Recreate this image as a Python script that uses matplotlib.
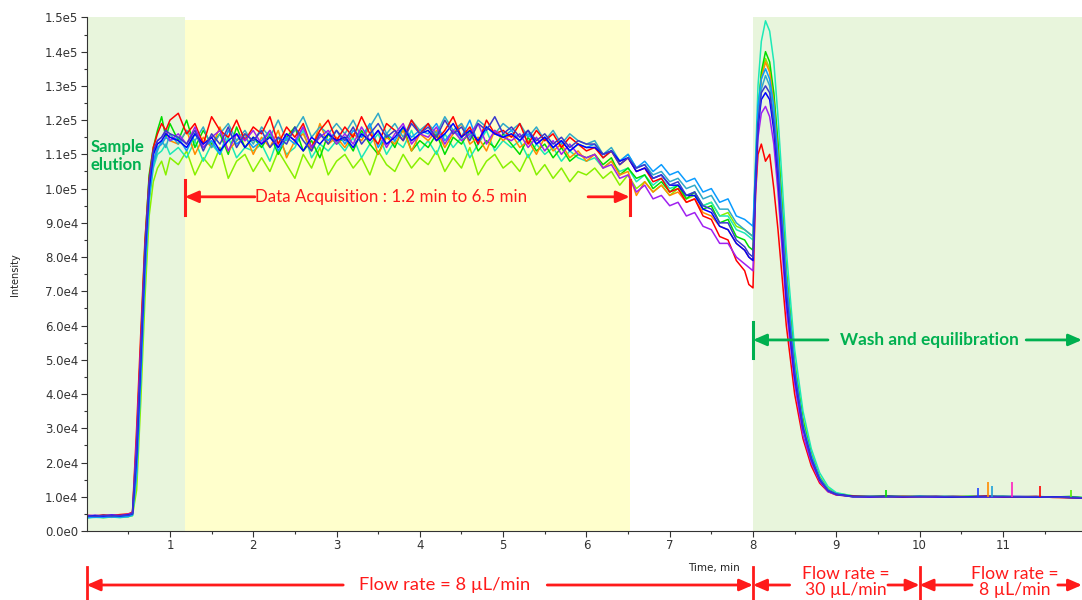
import numpy as np
import matplotlib
matplotlib.use("Agg")
import matplotlib.pyplot as plt
import matplotlib.transforms as mtransforms

# Time grid (min), shared by all traces
t = [0.0, 0.1, 0.2, 0.3, 0.4, 0.5,
     0.55, 0.6, 0.65, 0.7, 0.75, 0.8, 0.85, 0.9, 0.95, 1.0,
     1.1, 1.2, 1.3, 1.4, 1.5, 1.6, 1.7, 1.8, 1.9, 2.0,
     2.1, 2.2, 2.3, 2.4, 2.5, 2.6, 2.7, 2.8, 2.9, 3.0,
     3.1, 3.2, 3.3, 3.4, 3.5, 3.6, 3.7, 3.8, 3.9, 4.0,
     4.1, 4.2, 4.3, 4.4, 4.5, 4.6, 4.7, 4.8, 4.9, 5.0,
     5.1, 5.2, 5.3, 5.4, 5.5, 5.6, 5.7, 5.8, 5.9, 6.0,
     6.1, 6.2, 6.3, 6.4, 6.5, 6.6, 6.7, 6.8, 6.9, 7.0,
     7.1, 7.2, 7.3, 7.4, 7.5, 7.6, 7.7, 7.8, 7.9,
     7.95, 8.0, 8.03, 8.06, 8.1, 8.15, 8.2, 8.25, 8.3, 8.35, 8.4, 8.5, 8.6, 8.7, 8.8, 8.9, 9.0,
     9.2, 9.4, 9.6, 9.8, 10.0, 10.2, 10.4, 10.6, 10.8, 11.0, 11.2, 11.4, 11.6, 11.8, 11.95]

# Intensity of each run, in thousands of counts
red = [4.6, 4.4, 4.7, 4.5, 4.8, 5.0,
       5.5, 30, 58, 85, 103, 112, 116, 119, 117, 120,
       122, 116, 119, 113, 121, 117, 115, 120, 114, 118,
       116, 121, 113, 118, 115, 119, 112, 117, 120, 114,
       118, 115, 121, 116, 113, 119, 117, 114, 120, 116,
       119, 114, 117, 121, 115, 118, 113, 120, 116, 117,
       115, 119, 113, 117, 114, 116, 112, 115, 113, 111,
       112, 109, 111, 107, 109, 105, 106, 102, 103, 99,
       100, 96, 97, 92, 91, 86, 85, 79, 76,
       72, 71, 98, 110, 113, 108, 110, 100, 88, 74, 60, 40, 27, 19, 14, 11.5, 10.5,
       10.2, 10.0, 10.1, 9.9, 10.0, 10.1, 9.9, 10.0, 10.2, 9.9, 10.0, 10.1, 9.8, 9.7, 9.6]

orange = [4.3, 4.5, 4.4, 4.6, 4.5, 4.8,
          5.0, 20, 47, 77, 98, 108, 112, 113, 115, 114,
          113, 117, 110, 115, 112, 118, 111, 114, 116, 110,
          115, 112, 117, 109, 114, 116, 111, 119, 113, 115,
          112, 116, 114, 118, 110, 115, 113, 117, 111, 116,
          114, 117, 112, 116, 119, 113, 115, 111, 117, 114,
          116, 112, 114, 110, 115, 111, 113, 109, 111, 108,
          110, 106, 108, 104, 105, 98, 102, 99, 101, 98,
          99, 96, 97, 93, 92, 89, 88, 84, 82,
          80, 79, 102, 120, 132, 137, 134, 125, 110, 92, 74, 47, 31, 22, 15.5, 12, 10.8,
          10.0, 10.1, 9.9, 10.2, 10.0, 9.9, 10.1, 10.0, 10.1, 10.0, 9.9, 10.0, 9.9, 9.8, 9.7]

chartreuse = [4.0, 4.2, 3.9, 4.1, 4.0, 4.2,
              4.5, 12, 38, 68, 92, 102, 106, 108, 104, 109,
              107, 111, 104, 109, 106, 112, 103, 108, 110, 105,
              109, 105, 111, 107, 103, 110, 106, 112, 104, 108,
              110, 106, 109, 104, 111, 107, 105, 110, 106, 109,
              107, 111, 105, 109, 106, 112, 104, 108, 110, 106,
              108, 105, 110, 104, 107, 103, 106, 102, 105, 104,
              106, 103, 105, 101, 104, 100, 102, 99, 101, 98,
              100, 97, 98, 95, 96, 92, 93, 89, 88,
              87, 86, 104, 122, 133, 138, 135, 127, 113, 95, 77, 50, 33, 23, 16, 12.5, 11,
              10.3, 10.1, 10.2, 10.0, 10.1, 10.0, 10.2, 10.1, 10.0, 10.1, 10.0, 9.9, 10.0, 9.9, 9.8]

green = [4.4, 4.3, 4.5, 4.4, 4.6, 4.7,
         5.2, 26, 55, 84, 104, 112, 117, 121, 115, 119,
         114, 120, 112, 117, 113, 116, 110, 118, 112, 115,
         112, 116, 110, 115, 118, 111, 114, 109, 116, 113,
         115, 111, 117, 113, 110, 116, 112, 118, 111, 114,
         112, 116, 110, 115, 113, 117, 111, 114, 112, 116,
         113, 110, 115, 111, 113, 109, 112, 108, 110, 109,
         110, 107, 109, 104, 106, 103, 104, 100, 102, 99,
         101, 97, 99, 94, 95, 90, 91, 86, 85,
         83, 82, 103, 122, 134, 140, 137, 128, 113, 94, 75, 48, 32, 22, 15.5, 12, 10.8,
         10.1, 10.0, 10.3, 10.0, 10.1, 10.0, 9.9, 10.1, 10.0, 10.1, 9.9, 10.0, 9.9, 10.1, 9.7]

aqua = [3.8, 4.0, 3.9, 4.1, 3.9, 4.2,
        4.5, 16, 44, 74, 96, 106, 110, 111, 113, 110,
        112, 109, 114, 108, 113, 110, 115, 109, 112, 111,
        113, 108, 115, 110, 112, 117, 109, 113, 111, 114,
        111, 115, 109, 113, 116, 110, 114, 112, 117, 111,
        114, 110, 116, 112, 115, 109, 113, 117, 111, 114,
        112, 114, 109, 113, 110, 112, 108, 111, 109, 108,
        109, 106, 108, 105, 106, 102, 104, 101, 103, 100,
        101, 98, 99, 95, 96, 92, 92, 88, 87,
        86, 85, 108, 130, 143, 149, 146, 137, 121, 102, 82, 53, 35, 24, 17, 13, 11.2,
        10.2, 10.1, 10.0, 10.2, 10.0, 10.1, 10.0, 10.1, 10.2, 10.0, 10.1, 10.0, 9.9, 9.9, 9.8]

sky = [3.9, 4.1, 4.0, 4.2, 4.1, 4.3,
       4.8, 18, 46, 76, 98, 108, 112, 113, 115, 114,
       115, 111, 116, 112, 114, 110, 117, 113, 115, 112,
       114, 117, 111, 115, 113, 118, 112, 116, 114, 117,
       113, 117, 115, 119, 112, 116, 114, 118, 115, 117,
       116, 119, 114, 117, 115, 120, 113, 118, 116, 115,
       117, 114, 116, 113, 115, 112, 114, 111, 113, 112,
       113, 109, 111, 108, 110, 106, 108, 105, 107, 104,
       105, 102, 103, 99, 100, 96, 97, 92, 91,
       90, 89, 106, 124, 132, 135, 132, 124, 109, 92, 74, 48, 31, 22, 15.5, 12, 10.8,
       10.0, 10.1, 10.0, 9.9, 10.1, 10.0, 10.1, 9.9, 10.0, 10.1, 10.0, 10.1, 9.9, 9.8, 9.7]

teal = [4.1, 4.0, 4.2, 4.0, 4.3, 4.2,
        4.7, 17, 45, 75, 97, 107, 111, 114, 112, 116,
        113, 117, 114, 118, 112, 116, 119, 114, 117, 113,
        118, 115, 120, 114, 117, 121, 115, 118, 116, 119,
        116, 120, 115, 118, 122, 116, 119, 115, 120, 117,
        119, 116, 121, 117, 119, 115, 120, 118, 116, 119,
        117, 119, 115, 118, 114, 117, 113, 116, 114, 113,
        114, 110, 112, 108, 110, 106, 107, 104, 105, 102,
        103, 100, 101, 97, 98, 94, 94, 90, 88,
        87, 86, 104, 120, 129, 133, 130, 121, 107, 90, 72, 47, 31, 22, 15.5, 12, 10.8,
        10.1, 10.0, 10.1, 10.0, 9.9, 10.1, 10.0, 10.0, 10.1, 10.0, 9.9, 10.0, 10.0, 9.8, 9.7]

purple = [4.5, 4.6, 4.4, 4.7, 4.5, 4.9,
          5.3, 27, 54, 82, 101, 110, 114, 115, 117, 114,
          116, 113, 118, 112, 115, 117, 111, 116, 114, 117,
          113, 117, 112, 116, 114, 118, 112, 115, 117, 113,
          116, 113, 118, 114, 117, 112, 116, 119, 113, 116,
          115, 118, 113, 117, 114, 116, 119, 113, 117, 115,
          114, 116, 112, 115, 111, 114, 110, 113, 110, 109,
          110, 106, 107, 103, 104, 99, 101, 97, 98, 95,
          96, 92, 93, 89, 88, 84, 84, 80, 78,
          77, 76, 98, 115, 122, 124, 121, 113, 99, 82, 65, 43, 28, 20, 14.5, 11.5, 10.6,
          10.0, 9.9, 10.1, 10.0, 10.0, 9.9, 10.1, 10.0, 9.9, 10.0, 10.1, 9.9, 9.9, 9.8, 9.6]

blue = [4.3, 4.5, 4.4, 4.6, 4.4, 4.7,
        5.0, 22, 50, 80, 100, 110, 113, 114, 116, 115,
        114, 112, 116, 113, 115, 111, 114, 116, 112, 115,
        113, 115, 112, 116, 114, 111, 115, 113, 116, 114,
        115, 112, 116, 114, 117, 113, 115, 118, 114, 116,
        117, 114, 116, 119, 115, 117, 114, 118, 116, 115,
        116, 114, 117, 113, 115, 112, 114, 111, 113, 112,
        112, 110, 111, 108, 109, 105, 106, 103, 104, 101,
        101, 98, 98, 94, 93, 89, 88, 84, 82,
        80, 79, 101, 118, 126, 128, 126, 117, 103, 86, 68, 45, 30, 21, 15, 11.8, 10.7,
        10.1, 10.0, 10.1, 10.0, 10.1, 10.0, 9.9, 10.0, 10.1, 10.0, 10.0, 9.9, 10.0, 9.8, 9.7]

slate = [4.4, 4.3, 4.6, 4.4, 4.5, 4.6,
         5.1, 24, 52, 82, 102, 111, 114, 115, 117, 116,
         115, 113, 117, 111, 116, 113, 118, 112, 116, 114,
         117, 112, 115, 113, 118, 114, 111, 116, 113, 117,
         114, 118, 113, 116, 119, 115, 117, 114, 119, 116,
         118, 115, 120, 116, 118, 114, 119, 117, 121, 116,
         118, 115, 117, 114, 116, 113, 115, 112, 114, 113,
         113, 110, 111, 107, 109, 106, 107, 103, 104, 101,
         102, 98, 99, 95, 94, 90, 90, 85, 83,
         81, 80, 102, 119, 128, 130, 128, 119, 105, 88, 70, 46, 30, 21, 15, 11.8, 10.7,
         10.0, 10.1, 10.0, 10.1, 10.0, 10.1, 10.0, 9.9, 10.0, 10.1, 10.0, 10.0, 9.9, 9.8, 9.7]

# small late spikes on the baseline
spike_t = [9.6, 10.7, 10.82, 10.87, 11.11, 11.45, 11.82]
spike_h = [12.0, 12.6, 14.2, 13.0, 14.4, 13.1, 12.0]
spike_c = ['#00dd00', '#2040ff', '#ff8c00', '#1ea0d8', '#ff20c0', '#ff0000', '#55ee00']

ytick_vals = [0, 10, 20, 30, 40, 50, 60, 70, 80, 90, 100, 110, 120, 130, 140, 150]
ytick_labels = ['0.0e0', '1.0e4', '2.0e4', '3.0e4', '4.0e4', '5.0e4', '6.0e4', '7.0e4',
                '8.0e4', '9.0e4', '1.0e5', '1.1e5', '1.2e5', '1.3e5', '1.4e5', '1.5e5']
xtick_vals = [1, 2, 3, 4, 5, 6, 7, 8, 9, 10, 11]

traces = [(chartreuse, '#88f000'), (aqua, '#1de9b6'), (green, '#00dd00'),
          (orange, '#ff8c00'), (teal, '#30aac8'), (sky, '#0a9cff'),
          (red, '#ff0000'), (purple, '#a020f0'), (blue, '#0000ff'),
          (slate, '#3a3acc')]

RED = '#ff1a1a'
GRN = '#00b050'
plt.rcParams['font.family'] = ['Lato', 'DejaVu Sans']

fig = plt.figure(figsize=(10.82, 6.0), dpi=100)
ax = fig.add_axes([0.0801, 0.115, 0.9199, 0.856])

# shaded regions
ax.axvspan(0, 1.18, color='#e8f5dc', lw=0, zorder=0)
ax.axvspan(1.18, 6.52, ymax=0.995, color='#ffffcc', lw=0, zorder=0)
ax.axvspan(8.0, 12, color='#e8f5dc', lw=0, zorder=0)

for vals, col in traces:
    ax.plot(t, vals, color=col, lw=1.1, zorder=2)
ax.vlines(spike_t, 10, spike_h, colors=spike_c, lw=1.2, zorder=2)

ax.set_xlim(0, 11.95)
ax.set_ylim(0, 150)
ax.set_xticks(xtick_vals)
ax.set_xticks([v + 0.5 for v in range(0, 12)], minor=True)
ax.set_yticks(ytick_vals)
ax.set_yticklabels(ytick_labels)
ax.set_yticks([v + 5 for v in ytick_vals[:-1]], minor=True)
ax.tick_params(labelsize=8.5, colors='#333333', length=4, width=0.8, pad=2,
               labelfontfamily='DejaVu Sans')
ax.tick_params(which='minor', length=2.5, width=0.8, colors='#333333')
for s in ['top', 'right']:
    ax.spines[s].set_visible(False)
for s in ['left', 'bottom']:
    ax.spines[s].set_color('#333333')

ax.set_ylabel('Intensity', fontsize=7, family='DejaVu Sans', color='#222222')
ax.yaxis.set_label_coords(-0.067, 0.5)
ax.set_xlabel('Time, min', fontsize=7.5, family='DejaVu Sans', color='#222222')
ax.xaxis.set_label_coords(0.63, -0.062)

# Sample elution label
ax.text(0.05, 109.5, 'Sample\nelution', color=GRN, fontsize=12, fontweight='bold',
        va='center', ha='left', linespacing=1.15)

arrow_kw = dict(arrowstyle='-|>,head_length=0.8,head_width=0.35', lw=2, shrinkA=0, shrinkB=0)

# Data acquisition window
ax.plot([1.18, 1.18], [92.3, 102.5], color=RED, lw=2.2)
ax.plot([6.52, 6.52], [92.3, 102.5], color=RED, lw=2.2)
ax.annotate('', xy=(1.18, 97.6), xytext=(2.02, 97.6), arrowprops=dict(color=RED, **arrow_kw))
ax.annotate('', xy=(6.52, 97.6), xytext=(6.02, 97.6), arrowprops=dict(color=RED, **arrow_kw))
ax.text(3.66, 97.6, 'Data Acquisition : 1.2 min to 6.5 min', color=RED, fontsize=12.2,
        ha='center', va='center')

# Wash and equilibration
ax.plot([8.0, 8.0], [50.5, 61], color=GRN, lw=2.2)
ax.annotate('', xy=(8.0, 55.8), xytext=(8.9, 55.8), arrowprops=dict(color=GRN, **arrow_kw))
ax.annotate('', xy=(11.95, 55.8), xytext=(11.28, 55.8), arrowprops=dict(color=GRN, **arrow_kw),
            annotation_clip=False)
ax.text(10.12, 55.8, 'Wash and equilibration', color=GRN, fontsize=12.4, fontweight='bold',
        ha='center', va='center')

# Flow rate annotations below the axis
tr = mtransforms.blended_transform_factory(ax.transData, fig.transFigure)
yf = 0.025
for xb in [0.0, 8.0, 10.0]:
    ax.plot([xb, xb], [0.0, 0.055], color=RED, lw=2, transform=tr, clip_on=False)
flow_segments = [(0.0, 3.08, 5.53, 8.0), (8.0, 8.44, 9.62, 10.0), (10.0, 10.63, 11.66, 11.95)]
for x0, xa, xb, x1 in flow_segments:
    ax.annotate('', xy=(x0, yf), xytext=(xa, yf), xycoords=tr, textcoords=tr,
                arrowprops=dict(color=RED, **arrow_kw), annotation_clip=False)
    ax.annotate('', xy=(x1, yf), xytext=(xb, yf), xycoords=tr, textcoords=tr,
                arrowprops=dict(color=RED, **arrow_kw), annotation_clip=False)
ax.text(4.3, yf, 'Flow rate = 8 \u00b5L/min', color=RED, fontsize=13.2, ha='center',
        va='center', transform=tr, clip_on=False)
ax.text(9.12, 0.003, 'Flow rate =\n30 \u00b5L/min', color=RED, fontsize=12.6, ha='center',
        va='bottom', transform=tr, clip_on=False, linespacing=1.05)
ax.text(11.14, 0.003, 'Flow rate =\n8 \u00b5L/min', color=RED, fontsize=12.6, ha='center',
        va='bottom', transform=tr, clip_on=False, linespacing=1.05)

fig.savefig('out.png', dpi=100)
